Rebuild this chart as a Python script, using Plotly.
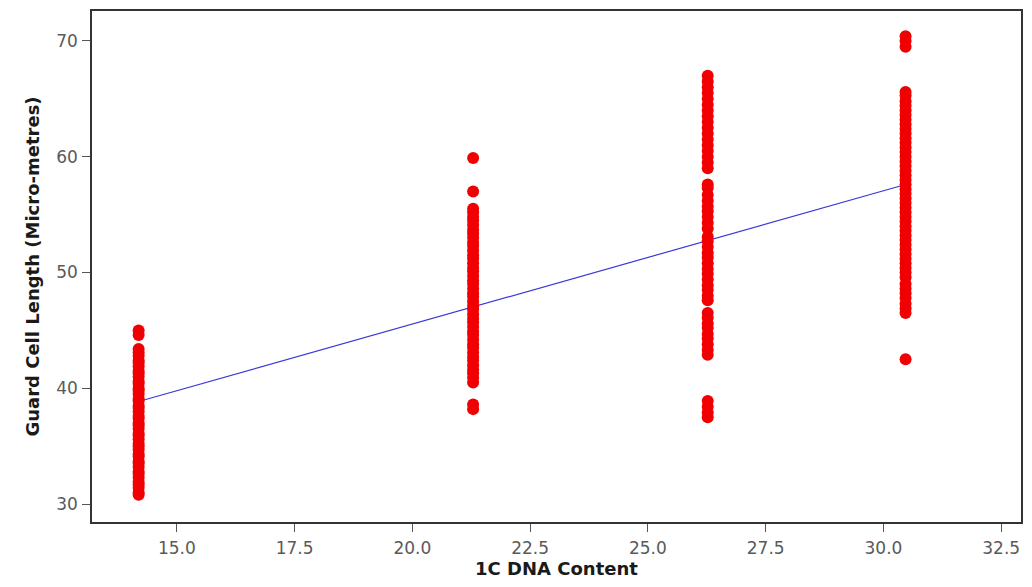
import plotly.graph_objects as go

# Column x positions (1C DNA content)
dna_values = [14.19, 21.29, 26.27, 30.47]

# Guard cell lengths per DNA group (micro-metres)
len_g1 = [30.8, 31.0, 31.4, 31.7, 31.9, 32.3, 32.6, 32.8, 33.2, 33.5, 33.7, 34.1, 34.3, 34.7,
          35.0, 35.2, 35.6, 35.9, 36.1, 36.5, 36.8, 37.0, 37.4, 37.6, 38.0, 38.3, 38.5, 38.9,
          39.1, 39.5, 39.8, 40.0, 40.4, 40.6, 41.0, 41.3, 41.5, 41.9, 42.2, 42.4, 42.8, 43.1,
          43.4, 44.6, 45.0]
len_g2 = [38.2, 38.6, 40.5, 40.9, 41.3, 41.6, 42.0, 42.4, 42.7, 43.1, 43.5, 43.8, 44.2, 44.6,
          44.9, 45.3, 45.7, 46.0, 46.4, 46.8, 47.1, 47.5, 47.9, 48.2, 48.6, 49.0, 49.3, 49.7,
          50.1, 50.4, 50.8, 51.2, 51.5, 51.9, 52.3, 52.6, 53.0, 53.4, 53.7, 54.1, 54.5, 54.8,
          55.2, 55.5, 57.0, 59.9]
len_g3 = [37.5, 37.9, 38.4, 38.9, 42.9, 43.3, 43.8, 44.3, 44.7, 45.2, 45.6, 46.1, 46.5,
          47.6, 48.0, 48.5, 48.9, 49.4, 49.9, 50.3, 50.8, 51.3, 51.7, 52.2, 52.7, 53.1,
          53.8, 54.3, 54.8, 55.3, 55.7, 56.2, 56.7, 57.3, 57.6,
          59.0, 59.5, 60.0, 60.5, 61.0, 61.5, 62.0, 62.5, 63.0, 63.5, 64.0, 64.5, 65.0, 65.5,
          66.0, 66.5, 67.0]
len_g4 = [42.5, 46.5, 46.9, 47.3, 47.8, 48.2, 48.6, 49.0,
          49.6, 50.0, 50.4, 50.8, 51.2, 51.6, 52.0, 52.4, 52.8, 53.2, 53.6, 54.0, 54.4, 54.8,
          55.2, 55.6, 56.0, 56.4, 56.8, 57.2, 57.6, 58.0, 58.4, 58.8, 59.2, 59.6, 60.0, 60.4,
          60.8, 61.2, 61.6, 62.0, 62.4, 62.8, 63.2, 63.6, 64.0, 64.4, 64.8, 65.3, 65.6,
          69.5, 70.0, 70.4]

# Fitted regression line endpoints
fit_x = [14.19, 30.47]
fit_y = [38.86, 57.6]

x_ticks = [15.0, 17.5, 20.0, 22.5, 25.0, 27.5, 30.0, 32.5]
y_ticks = [30, 40, 50, 60, 70]

groups = [len_g1, len_g2, len_g3, len_g4]
xs, ys = [], []
for xv, g in zip(dna_values, groups):
    xs += [xv] * len(g)
    ys += g

fig = go.Figure()
fig.add_trace(go.Scatter(x=fit_x, y=fit_y, mode="lines",
                         line=dict(color="#3a3ad8", width=1.2), showlegend=False))
fig.add_trace(go.Scatter(x=xs, y=ys, mode="markers",
                         marker=dict(color="#f00000", size=12, line=dict(width=0)),
                         showlegend=False))

axis_common = dict(showgrid=False, zeroline=False, showline=True, linecolor="#333333",
                   linewidth=1.5, mirror=True, ticks="outside", ticklen=8, tickwidth=1.2,
                   tickcolor="#555555",
                   tickfont=dict(family="DejaVu Sans", size=17, color="#5a5a5a"))

fig.update_layout(
    width=1016, height=571,
    margin=dict(l=84, r=1, t=2, b=57),
    paper_bgcolor="white", plot_bgcolor="white",
    xaxis=dict(range=[13.2, 32.92], tickvals=x_ticks,
               ticktext=[f"{v:.1f}" for v in x_ticks],
               ticklabelstandoff=2,
               title=dict(text="<b>1C DNA Content</b>",
                          font=dict(family="DejaVu Sans", size=18, color="#1a1a1a"),
                          standoff=2),
               **axis_common),
    yaxis=dict(range=[28.45, 72.59], tickvals=y_ticks,
               ticklabelstandoff=1,
               title=dict(text="<b>Guard Cell Length (Micro-metres)</b>",
                          font=dict(family="DejaVu Sans", size=18, color="#1a1a1a"),
                          standoff=12),
               **axis_common),
)

fig.write_html("out.html")
